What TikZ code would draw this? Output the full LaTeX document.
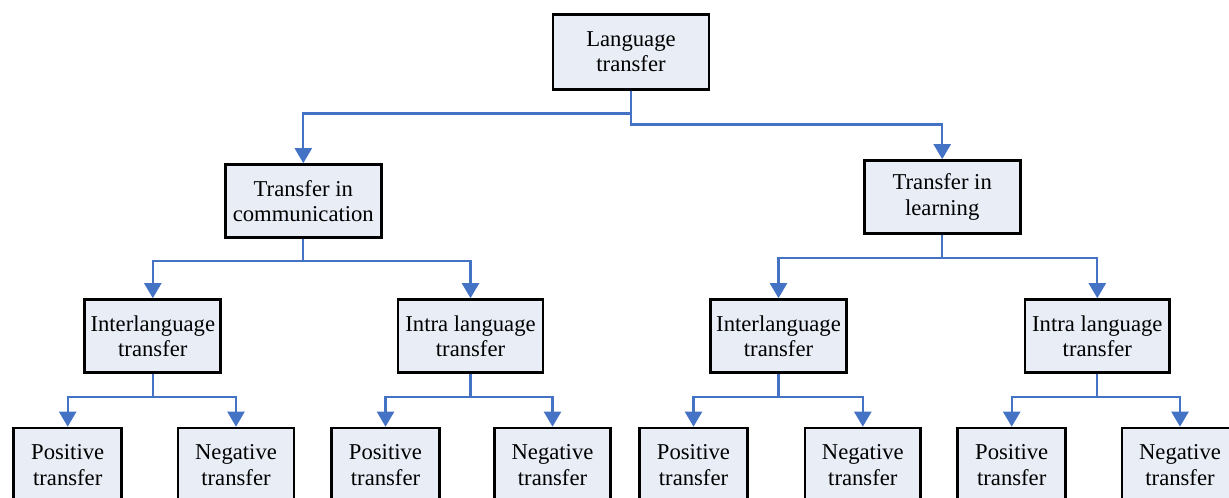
\documentclass[tikz,border=0pt]{standalone}
\usepackage{fontspec}
\setmainfont{Liberation Serif}
\usetikzlibrary{arrows.meta}
\definecolor{lineblue}{HTML}{4472C4}
\definecolor{boxfill}{HTML}{E8EDF6}
\tikzset{
  box/.style={draw=black, line width=1.5pt, fill=boxfill, align=center, inner sep=0pt,
    font=\fontsize{12.9}{14.4}\selectfont, minimum height=1.46cm},
  conn/.style={draw=lineblue, line width=1.3pt, -{Triangle[width=0.34cm,length=0.3cm]}}
}
\begin{document}
\begin{tikzpicture}[x=0.02cm,y=-0.02cm]
\useasboundingbox (0,0) rectangle (1229,497);
\clip (0,0) rectangle (1229,497);
% level 1
\node[box, minimum width=3.12cm, minimum height=1.5cm] (top) at (631,51.7) {Language\\transfer};
% level 2
\node[box, minimum width=3.12cm] (comm) at (303.3,201) {Transfer in\\communication};
\node[box, minimum width=3.12cm] (learn) at (942.2,197) {Transfer in\\learning};
% level 3
\node[box, minimum width=2.72cm] (interA) at (152.8,336) {Interlanguage\\transfer};
\node[box, minimum width=2.9cm] (intraA) at (470.5,336) {Intra language\\transfer};
\node[box, minimum width=2.72cm] (interB) at (778.5,336) {Interlanguage\\transfer};
\node[box, minimum width=2.9cm] (intraB) at (1097.3,336) {Intra language\\transfer};
% level 4
\node[box, minimum width=2.16cm, minimum height=1.48cm] (posA) at (67.7,465) {Positive\\transfer};
\node[box, minimum width=2.32cm, minimum height=1.48cm] (negA) at (236,465) {Negative\\transfer};
\node[box, minimum width=2.16cm, minimum height=1.48cm] (posB) at (385.5,465) {Positive\\transfer};
\node[box, minimum width=2.32cm, minimum height=1.48cm] (negB) at (552.5,465) {Negative\\transfer};
\node[box, minimum width=2.16cm, minimum height=1.48cm] (posC) at (693.5,465) {Positive\\transfer};
\node[box, minimum width=2.32cm, minimum height=1.48cm] (negC) at (862.8,465) {Negative\\transfer};
\node[box, minimum width=2.16cm, minimum height=1.48cm] (posD) at (1011.7,465) {Positive\\transfer};
\node[box, minimum width=2.32cm, minimum height=1.48cm] (negD) at (1180,465) {Negative\\transfer};
% connectors
\draw[conn] (top.south) -- ++(0,23) -| (comm.north);
\draw[conn] (top.south) -- ++(0,34) -| (learn.north);
\draw[conn] (comm.south) -- ++(0,22) -| (interA.north);
\draw[conn] (comm.south) -- ++(0,22) -| (intraA.north);
\draw[conn] (learn.south) -- ++(0,23) -| (interB.north);
\draw[conn] (learn.south) -- ++(0,23) -| (intraB.north);
\draw[conn] (interA.south) -- ++(0,23.5) -| (posA.north);
\draw[conn] (interA.south) -- ++(0,23.5) -| (negA.north);
\draw[conn] (intraA.south) -- ++(0,23.5) -| (posB.north);
\draw[conn] (intraA.south) -- ++(0,23.5) -| (negB.north);
\draw[conn] (interB.south) -- ++(0,23.5) -| (posC.north);
\draw[conn] (interB.south) -- ++(0,23.5) -| (negC.north);
\draw[conn] (intraB.south) -- ++(0,23.5) -| (posD.north);
\draw[conn] (intraB.south) -- ++(0,23.5) -| (negD.north);
\end{tikzpicture}
\end{document}
